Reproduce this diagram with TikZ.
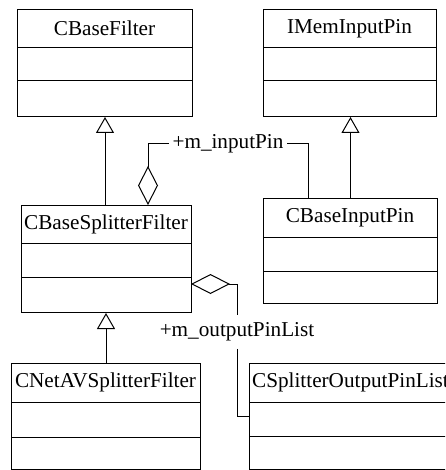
\documentclass[tikz,border=0pt]{standalone}
\usepackage{fontspec}
\setmainfont{Liberation Serif}
\usetikzlibrary{arrows.meta}
\begin{document}
\begin{tikzpicture}[x=1pt,y=-1pt, line width=1pt,
  classbox/.style={draw, rectangle, inner sep=0pt, anchor=north west},
  ctitle/.style={font=\fontsize{21.2}{24}\selectfont, inner sep=0pt},
  lbl/.style={font=\fontsize{21.2}{24}\selectfont, inner ysep=7pt, inner xsep=3.5pt},
  inherit/.style={-{Triangle[open,length=16pt,width=18pt]}},
  aggr/.style={{Diamond[open,length=39pt,width=20pt]}-},
]
\clip (0,0) rectangle (445,470);
\fill[white] (0,0) rectangle (445,470);

% CBaseFilter
\node[classbox, minimum width=175pt, minimum height=107pt] (cbf) at (17,9) {};
\node[ctitle] (cbft) at (104.5,28.5) {CBaseFilter};
\draw (17,48) -- (192,48) (17,81) -- (192,81);

% IMemInputPin
\node[classbox, minimum width=173pt, minimum height=107pt] (imp) at (263,9) {};
\node[ctitle] (impt) at (349.5,28.5) {IMemInputPin};
\draw (263,48) -- (436,48) (263,81) -- (436,81);

% CBaseSplitterFilter
\node[classbox, minimum width=170pt, minimum height=107pt] (cbsf) at (21,205) {};
\node[ctitle] (cbsft) at (106,224) {CBaseSplitterFilter};
\draw (21,243) -- (191,243) (21,277) -- (191,277);

% CBaseInputPin
\node[classbox, minimum width=174pt, minimum height=105pt] (cbip) at (263,198) {};
\node[ctitle] (cbipt) at (350,217.5) {CBaseInputPin};
\draw (263,237) -- (437,237) (263,271) -- (437,271);

% CNetAVSplitterFilter
\node[classbox, minimum width=189pt, minimum height=106pt] (cnav) at (11,363) {};
\node[ctitle] (cnavt) at (105.5,382.5) {CNetAVSplitterFilter};
\draw (11,402) -- (200,402) (11,437) -- (200,437);

% CSplitterOutputPinList
\node[classbox, minimum width=203pt, minimum height=106pt] (csop) at (249,363) {};
\node[ctitle] (csopt) at (350.5,382.5) {CSplitterOutputPinList};
\draw (249,402) -- (452,402) (249,436) -- (452,436);

% inheritance
\draw[inherit] (cbsf.north -| cbf.south) -- (cbf.south);
\draw[inherit] (cbip.north) -- (cbip.north |- imp.south);
\draw[inherit] (cnav.north) -- (cnav.north |- cbsf.south);

% m_inputPin aggregation
\node[lbl] (lblin) at (228,144) {+m\_inputPin};
\coordinate (inA) at (148,205);
\coordinate (inB) at (308,198);
\draw[aggr] (inA) |- (lblin.west);
\draw (lblin.east) -| (inB);

% m_outputPinList aggregation
\node[lbl] (lblout) at (237,332) {+m\_outputPinList};
\coordinate (outA) at (191,284);
\coordinate (outB) at (249,416);
\draw[aggr] (outA) -| (lblout.north);
\draw (lblout.south) |- (outB);
\end{tikzpicture}
\end{document}
